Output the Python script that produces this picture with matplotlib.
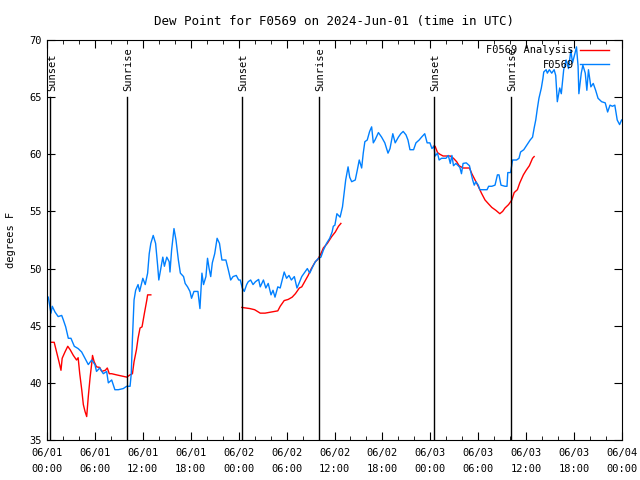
import numpy as np
import matplotlib
matplotlib.use("Agg")
import matplotlib.pyplot as plt
from matplotlib.ticker import MultipleLocator

# hours since 2024-06-01 00:00 UTC
obs_hours = [0.16, 0.5, 0.66, 1.0, 1.4, 1.84, 2.05, 2.34, 2.67, 3.0, 3.42, 3.9, 4.34, 4.76,
             5.17, 5.6, 6.0, 6.2, 6.6, 7.05, 7.47, 7.68, 8.1, 8.5, 8.93, 9.55, 9.98, 10.4,
             10.55, 10.7, 10.9, 11.1, 11.4, 11.6, 12.0, 12.3, 12.6, 12.8, 13.0, 13.3, 13.6,
             13.85, 14.0, 14.3, 14.5, 14.7, 15.0, 15.3, 15.4, 15.6, 15.9, 16.15, 16.45, 16.7,
             17.1, 17.3, 17.6, 17.9, 18.1, 18.4, 18.9, 19.15, 19.4, 19.6, 19.9, 20.1, 20.3,
             20.5, 20.7, 21.0, 21.3, 21.6, 21.9, 22.4, 22.7, 23.0, 23.3, 23.7, 24.0, 24.2,
             24.45, 24.7, 25.0, 25.2, 25.5, 25.8, 26.1, 26.5, 26.7, 27.1, 27.4, 27.7, 28.05,
             28.3, 28.55, 28.9, 29.2, 29.4, 29.7, 30.0, 30.3, 30.6, 30.97, 31.3, 31.55, 31.9,
             32.3, 32.6, 32.9, 33.3, 33.6, 34.0, 34.3, 34.6, 35.0, 35.4, 35.7, 35.85, 36.05,
             36.3, 36.7, 37.0, 37.2, 37.4, 37.7, 37.9, 38.15, 38.6, 38.85, 39.1, 39.4, 39.6,
             39.8, 40.1, 40.4, 40.65, 40.86, 41.07, 41.5, 41.9, 42.3, 42.7, 42.95, 43.3, 43.6,
             44.0, 44.3, 44.6, 44.95, 45.2, 45.45, 45.9, 46.2, 46.6, 46.9, 47.3, 47.6, 47.95,
             48.2, 48.46, 48.6, 48.9, 49.1, 49.4, 49.96, 50.25, 50.5, 50.7, 50.9, 51.2, 51.5,
             51.7, 51.9, 52.1, 52.5, 52.9, 53.05, 53.3, 53.5, 53.7, 54.0, 54.2, 54.6, 55.1,
             55.3, 55.7, 56.1, 56.4, 56.6, 56.85, 57.35, 57.6, 57.7, 58.05, 58.3, 58.8, 59.1,
             59.3, 59.7, 60.07, 60.5, 60.8, 61.0, 61.2, 61.4, 61.6, 61.9, 62.1, 62.2, 62.5,
             62.65, 62.9, 63.2, 63.5, 63.7, 63.9, 64.2, 64.4, 64.7, 65.0, 65.3, 65.6, 65.8,
             66.1, 66.3, 66.5, 66.6, 66.9, 67.1, 67.4, 67.6, 67.8, 68.1, 68.4, 68.7, 69.0,
             69.45, 69.9, 70.2, 70.5, 70.8, 71.1, 71.4, 71.7, 71.95]
obs_dewpt = [47.5, 46.1, 46.7, 46.2, 45.8, 45.9, 45.5, 44.9, 43.9, 43.9, 43.2, 43.0, 42.7, 42.15,
             41.6, 42.0, 41.6, 41.0, 41.3, 40.8, 41.0, 40.0, 40.25, 39.4, 39.4, 39.5, 39.7, 39.7,
             40.8, 43.9, 47.25, 48.1, 48.6, 48.0, 49.15, 48.6, 49.6, 51.3, 52.2, 52.9, 52.2,
             50.3, 49.0, 50.2, 51.0, 50.2, 51.0, 50.6, 49.7, 51.6, 53.5, 52.5, 50.75, 49.6,
             49.3, 48.7, 48.4, 48.0, 47.4, 48.0, 48.0, 46.5, 49.6, 48.6, 49.3, 50.9, 50.0,
             49.3, 50.5, 51.3, 52.65, 52.2, 50.75, 50.75, 49.9, 49.0, 49.3, 49.4, 49.0, 49.0,
             48.3, 48.0, 48.6, 48.85, 49.0, 48.6, 48.85, 49.05, 48.4, 49.0, 48.3, 48.7, 47.7,
             48.1, 47.5, 48.4, 48.3, 48.85, 49.7, 49.15, 49.4, 49.0, 49.3, 48.3, 48.7, 49.3,
             49.7, 50.0, 49.6, 50.2, 50.6, 50.9, 51.0, 51.6, 52.2, 52.65, 53.2, 53.7, 53.8,
             54.8, 54.5, 55.4, 56.6, 57.75, 58.9, 58.0, 57.6, 57.75, 58.6, 59.5, 58.8, 60.1,
             61.1, 61.25, 62.0, 62.4, 61.0, 61.25, 61.9, 61.5, 61.0, 60.1, 60.5, 61.8, 61.0,
             61.5, 61.8, 62.0, 61.7, 61.25, 60.4, 60.4, 61.0, 61.25, 61.5, 61.8, 61.0, 61.0,
             60.5, 60.7, 59.85, 60.1, 59.5, 59.65, 59.65, 59.9, 59.2, 59.9, 59.0, 59.2, 59.0,
             58.85, 58.3, 59.2, 59.25, 59.0, 58.5, 57.75, 57.3, 57.6, 57.3, 56.9, 56.9, 56.9,
             57.2, 57.2, 57.3, 58.2, 58.2, 57.3, 57.2, 57.2, 58.4, 58.4, 59.5, 59.5, 59.65,
             60.2, 60.4, 60.8, 61.25, 61.5, 62.3, 63.0, 64.0, 64.9, 65.8, 66.65, 67.2, 67.4,
             67.1, 67.4, 67.1, 67.4, 66.9, 64.6, 65.8, 65.3, 67.4, 68.25, 67.5, 69.1, 68.0,
             68.8, 69.4, 67.7, 65.3, 67.1, 67.8, 67.1, 65.6, 67.4, 65.9, 66.2, 65.6, 64.9,
             64.6, 64.5, 63.7, 64.3, 64.2, 64.3, 63.0, 62.6, 63.0]

# analysis, three separate runs
ana1_hours = [0.58, 0.9, 1.2, 1.5, 1.75, 1.9, 2.25, 2.6, 2.9, 3.3, 3.7, 3.9, 4.1, 4.35, 4.55,
              4.76, 4.97, 5.17, 5.4, 5.6, 5.7, 5.9, 6.2, 6.6, 6.85, 7.3, 7.55, 7.8, 8.1, 8.7,
              9.35, 10.0, 10.4, 10.7, 10.9, 11.2, 11.4, 11.65, 11.9, 12.2, 12.5, 12.6, 13.0]
ana1_dewpt = [43.55, 43.55, 42.7, 41.85, 41.1, 42.15, 42.7, 43.2, 42.9, 42.4, 42.0, 42.2, 40.8,
              39.4, 38.1, 37.5, 37.05, 38.8, 40.5, 41.7, 42.4, 41.85, 41.4, 41.35, 41.0, 41.1,
              41.3, 40.8, 40.8, 40.7, 40.6, 40.5, 40.7, 40.8, 41.85, 42.9, 43.9, 44.8, 44.9,
              46.1, 47.25, 47.7, 47.7]
ana2_hours = [24.4, 25.4, 26.0, 26.7, 27.3, 28.1, 28.9, 29.2, 29.7, 30.2, 30.7, 31.1, 31.6,
              31.9, 32.3, 32.7, 33.1, 33.6, 33.9, 34.3, 34.6, 35.1, 35.65, 36.1, 36.5, 36.8]
ana2_dewpt = [46.6, 46.5, 46.4, 46.1, 46.1, 46.2, 46.3, 46.7, 47.2, 47.3, 47.5, 47.8, 48.3,
              48.4, 48.9, 49.4, 50.0, 50.6, 50.8, 51.3, 51.8, 52.2, 52.8, 53.2, 53.7, 53.95]
ana3_hours = [48.4, 48.6, 48.9, 49.2, 49.6, 50.05, 50.5, 50.9, 51.3, 51.6, 52.1, 52.9, 53.2,
              53.6, 54.0, 54.4, 54.85, 55.3, 55.7, 56.2, 56.7, 57.05, 57.35, 57.8, 58.2, 58.5,
              58.9, 59.2, 59.65, 60.0, 60.4, 60.8, 61.0]
ana3_dewpt = [60.7, 60.7, 60.15, 60.0, 59.85, 59.85, 59.85, 59.65, 59.35, 59.0, 58.8, 58.8,
              58.3, 57.75, 57.2, 56.6, 56.0, 55.65, 55.35, 55.1, 54.8, 55.0, 55.3, 55.6, 56.0,
              56.65, 56.9, 57.5, 58.2, 58.6, 59.0, 59.65, 59.8]

sun_hours = [0.4, 10.0, 24.4, 34.05, 48.45, 58.1]
sun_labels = ['Sunset', 'Sunrise', 'Sunset', 'Sunrise', 'Sunset', 'Sunrise']

tick_hours = list(range(0, 73, 6))
tick_labels = ['06/01\n00:00', '06/01\n06:00', '06/01\n12:00', '06/01\n18:00',
               '06/02\n00:00', '06/02\n06:00', '06/02\n12:00', '06/02\n18:00',
               '06/03\n00:00', '06/03\n06:00', '06/03\n12:00', '06/03\n18:00',
               '06/04\n00:00']

plt.rcParams['font.family'] = 'DejaVu Sans Mono'
plt.rcParams['font.size'] = 7.5

fig = plt.figure(figsize=(6.4, 4.8), dpi=100)
ax = fig.add_axes([47 / 640, 40 / 480, 575 / 640, 400 / 480])

ana_color = '#ff0000'
obs_color = '#0080ff'

ax.plot(ana1_hours, ana1_dewpt, color=ana_color, lw=1, label='F0569 Analysis')
ax.plot(ana2_hours, ana2_dewpt, color=ana_color, lw=1)
ax.plot(ana3_hours, ana3_dewpt, color=ana_color, lw=1)
ax.plot(obs_hours, obs_dewpt, color=obs_color, lw=1, label='F0569')

for h, lab in zip(sun_hours, sun_labels):
    ax.plot([h, h], [35, 65], color='black', lw=1)
    ax.text(h + 0.2, 65.5, lab, rotation=90, ha='center', va='bottom')

ax.set_xlim(0, 72)
ax.set_ylim(35, 70)
ax.set_xticks(tick_hours)
ax.set_xticklabels(tick_labels, linespacing=1.7)
ax.xaxis.set_minor_locator(MultipleLocator(2))
ax.yaxis.set_major_locator(MultipleLocator(5))
ax.tick_params(which='both', direction='in', top=True, right=True)
ax.tick_params(which='major', length=6)
ax.tick_params(which='minor', length=3)
ax.tick_params(axis='x', which='major', pad=6)
ax.set_ylabel('degrees F', labelpad=10)
ax.set_title('Dew Point for F0569 on 2024-Jun-01 (time in UTC)', pad=11)

ax.legend(loc='upper right', bbox_to_anchor=(0.985, 0.997), frameon=False,
          markerfirst=False, handlelength=2.8, borderaxespad=0.0, labelspacing=0.45,
          handletextpad=0.6)

fig.savefig('out.png', dpi=100)
